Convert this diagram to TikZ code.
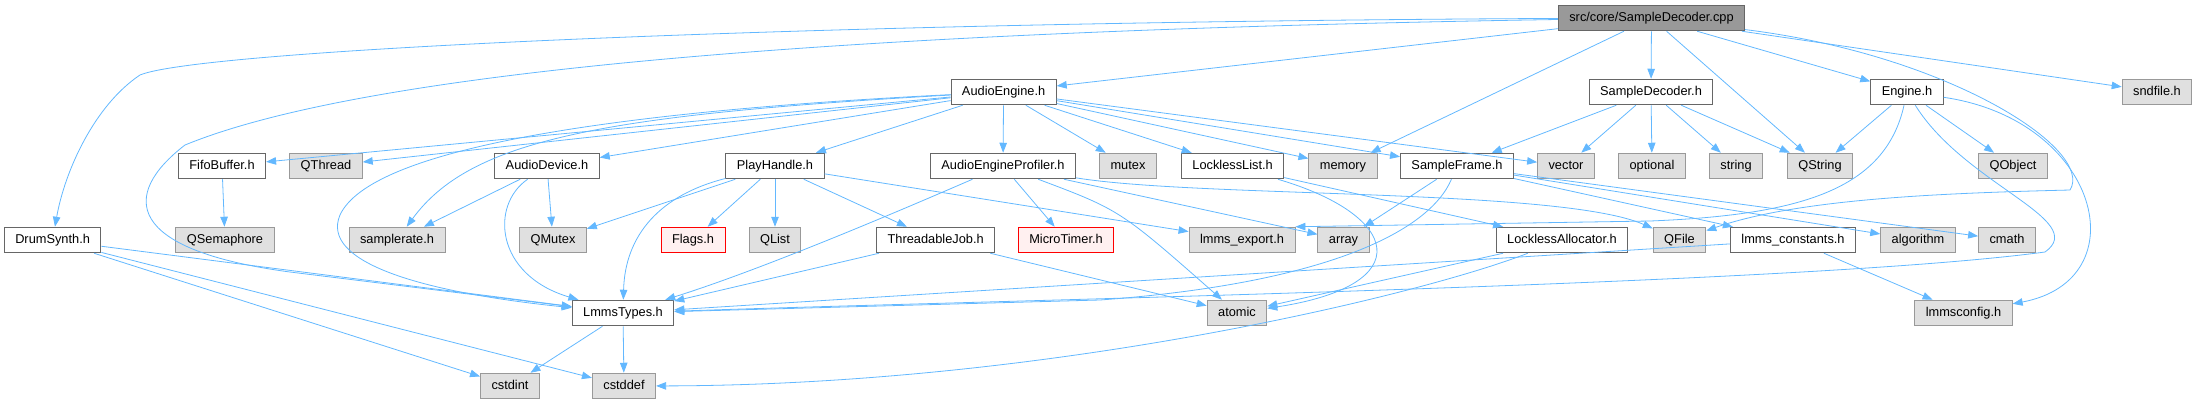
\documentclass[tikz,border=0pt]{standalone}
\usepackage{fontspec}
\setmainfont{Liberation Sans}
\usetikzlibrary{arrows.meta}
\definecolor{edgeblue}{HTML}{63B8FF}
\definecolor{hdrline}{HTML}{666666}
\definecolor{sysline}{HTML}{999999}
\definecolor{sysfill}{HTML}{E0E0E0}
\definecolor{rootfill}{HTML}{999999}
\definecolor{missfill}{HTML}{FFF0F0}
\tikzset{
  hdr/.style={draw=hdrline,fill=white,line width=0.9pt,minimum height=25.6pt,inner xsep=11pt,
    text height=9.4pt,text depth=2.8pt,font=\fontsize{12.8}{15}\selectfont},
  sys/.style={hdr,draw=sysline,fill=sysfill},
  miss/.style={hdr,draw=red,fill=missfill},
  rootfile/.style={hdr,draw=hdrline,fill=rootfill},
  dep/.style={draw=edgeblue,line width=0.8pt,-{Triangle[length=10pt,width=7.5pt]}}
}
\begin{document}
\begin{tikzpicture}[x=1pt,y=-1pt]
\useasboundingbox (0,0) rectangle (2197,405);
\node[rootfile] (root) at (1651.5,18) {src/core/SampleDecoder.cpp};
\node[hdr] (ae) at (1003.6,92) {AudioEngine.h};
\node[hdr] (sdh) at (1651,92) {SampleDecoder.h};
\node[hdr] (eng) at (1907,92) {Engine.h};
\node[sys] (sndfile) at (2157,92) {sndfile.h};
\node[hdr] (fifo) at (222,166) {FifoBuffer.h};
\node[sys] (qthread) at (326,166) {QThread};
\node[hdr] (adev) at (547,166) {AudioDevice.h};
\node[hdr] (ph) at (775,166) {PlayHandle.h};
\node[hdr] (aep) at (1003,166) {AudioEngineProfiler.h};
\node[sys] (mutex) at (1128,166) {mutex};
\node[hdr] (llist) at (1232.6,166) {LocklessList.h};
\node[sys] (memory) at (1343,166) {memory};
\node[hdr] (sframe) at (1457,166) {SampleFrame.h};
\node[sys] (vector) at (1566,166) {vector};
\node[sys] (optional) at (1652,166) {optional};
\node[sys] (string) at (1736,166) {string};
\node[sys] (qstring) at (1820,166) {QString};
\node[sys] (qobject) at (2013,166) {QObject};
\node[hdr] (drum) at (52.6,240) {DrumSynth.h};
\node[sys] (qsem) at (225,240) {QSemaphore};
\node[sys] (srate) at (397,240) {samplerate.h};
\node[sys] (qmutex) at (553,240) {QMutex};
\node[miss] (flags) at (693,240) {Flags.h};
\node[sys] (qlist) at (775,240) {QList};
\node[hdr] (tjob) at (935.7,240) {ThreadableJob.h};
\node[miss] (mtimer) at (1066,240) {MicroTimer.h};
\node[sys] (lexp) at (1242,240) {lmms\_export.h};
\node[sys] (array) at (1343.5,240) {array};
\node[hdr] (lalloc) at (1562,240) {LocklessAllocator.h};
\node[sys] (qfile) at (1679.5,240) {QFile};
\node[hdr] (lconst) at (1793,240) {lmms\_constants.h};
\node[sys] (algorithm) at (1918,240) {algorithm};
\node[sys] (cmath) at (2007,240) {cmath};
\node[hdr] (ltypes) at (623,313) {LmmsTypes.h};
\node[sys] (atomic) at (1237,313) {atomic};
\node[sys] (lcfg) at (1963.5,313) {lmmsconfig.h};
\node[sys] (cstdint) at (510,386) {cstdint};
\node[sys] (cstddef) at (624,386) {cstddef};
\draw[dep] (root) .. controls (800,22) and (200,50) .. (140,75) .. controls (95,105) and (65,170) .. (drum);
\draw[dep] (root) .. controls (900,30) and (380,65) .. (185,145) .. controls (120,195) and (125,250) .. (290,272) -- (ltypes);
\draw[dep] (root) -- (ae);
\draw[dep] (root) -- (memory);
\draw[dep] (root) -- (sdh);
\draw[dep] (root) -- (qstring);
\draw[dep] (root) -- (eng);
\draw[dep] (root) -- (sndfile);
\draw[dep] (root) .. controls (1950,55) and (2095,150) .. (2070,190) .. controls (1950,193) and (1800,198) .. (qfile);
\draw[dep] (ae) -- (fifo);
\draw[dep] (ae) -- (qthread);
\draw[dep] (ae) -- (adev);
\draw[dep] (ae) -- (ph);
\draw[dep] (ae) -- (aep);
\draw[dep] (ae) -- (mutex);
\draw[dep] (ae) -- (llist);
\draw[dep] (ae) -- (memory);
\draw[dep] (ae) -- (sframe);
\draw[dep] (ae) -- (vector);
\draw[dep] (ae) .. controls (600,115) and (470,140) .. (srate);
\draw[dep] (ae) .. controls (600,112) and (370,150) .. (340,215) .. controls (320,262) and (420,292) .. (ltypes);
\draw[dep] (sdh) -- (sframe);
\draw[dep] (sdh) -- (vector);
\draw[dep] (sdh) -- (optional);
\draw[dep] (sdh) -- (string);
\draw[dep] (sdh) -- (qstring);
\draw[dep] (eng) -- (qstring);
\draw[dep] (eng) -- (qobject);
\draw[dep] (eng) .. controls (2100,120) and (2140,280) .. (lcfg);
\draw[dep] (eng) .. controls (1965,185) and (2090,220) .. (2045,252) .. controls (1800,285) and (1000,300) .. (ltypes);
\draw[dep] (eng) .. controls (1885,190) and (1800,215) .. (1650,221) -- (lexp.north east);
\draw[dep] (fifo) -- (qsem);
\draw[dep] (adev) -- (srate);
\draw[dep] (adev) -- (qmutex);
\draw[dep] (adev) .. controls (490,205) and (495,275) .. (ltypes);
\draw[dep] (ph) -- (qmutex);
\draw[dep] (ph) .. controls (660,195) and (625,235) .. (ltypes);
\draw[dep] (ph) -- (flags);
\draw[dep] (ph) -- (qlist);
\draw[dep] (ph) -- (tjob);
\draw[dep] (ph) -- (lexp);
\draw[dep] (aep) .. controls (890,215) and (760,270) .. (ltypes);
\draw[dep] (aep) -- (mtimer);
\draw[dep] (aep) .. controls (1120,210) .. (atomic);
\draw[dep] (aep) -- (array);
\draw[dep] (aep) .. controls (1200,198) and (1560,188) .. (qfile);
\draw[dep] (llist) .. controls (1400,215) and (1420,285) .. (atomic);
\draw[dep] (llist) -- (lalloc);
\draw[dep] (sframe) -- (array);
\draw[dep] (sframe) .. controls (1430,230) and (1330,283) .. (1100,300) -- (ltypes);
\draw[dep] (sframe) -- (lconst);
\draw[dep] (sframe) -- (algorithm);
\draw[dep] (sframe) -- (cmath);
\draw[dep] (tjob) -- (ltypes);
\draw[dep] (tjob) -- (atomic);
\draw[dep] (lalloc) -- (atomic);
\draw[dep] (lalloc) .. controls (1420,295) and (1050,385) .. (cstddef);
\draw[dep] (lconst) -- (ltypes);
\draw[dep] (lconst) -- (lcfg);
\draw[dep] (drum) -- (ltypes);
\draw[dep] (drum) -- (cstdint);
\draw[dep] (drum) -- (cstddef);
\draw[dep] (ltypes) -- (cstdint);
\draw[dep] (ltypes) -- (cstddef);
\end{tikzpicture}
\end{document}
